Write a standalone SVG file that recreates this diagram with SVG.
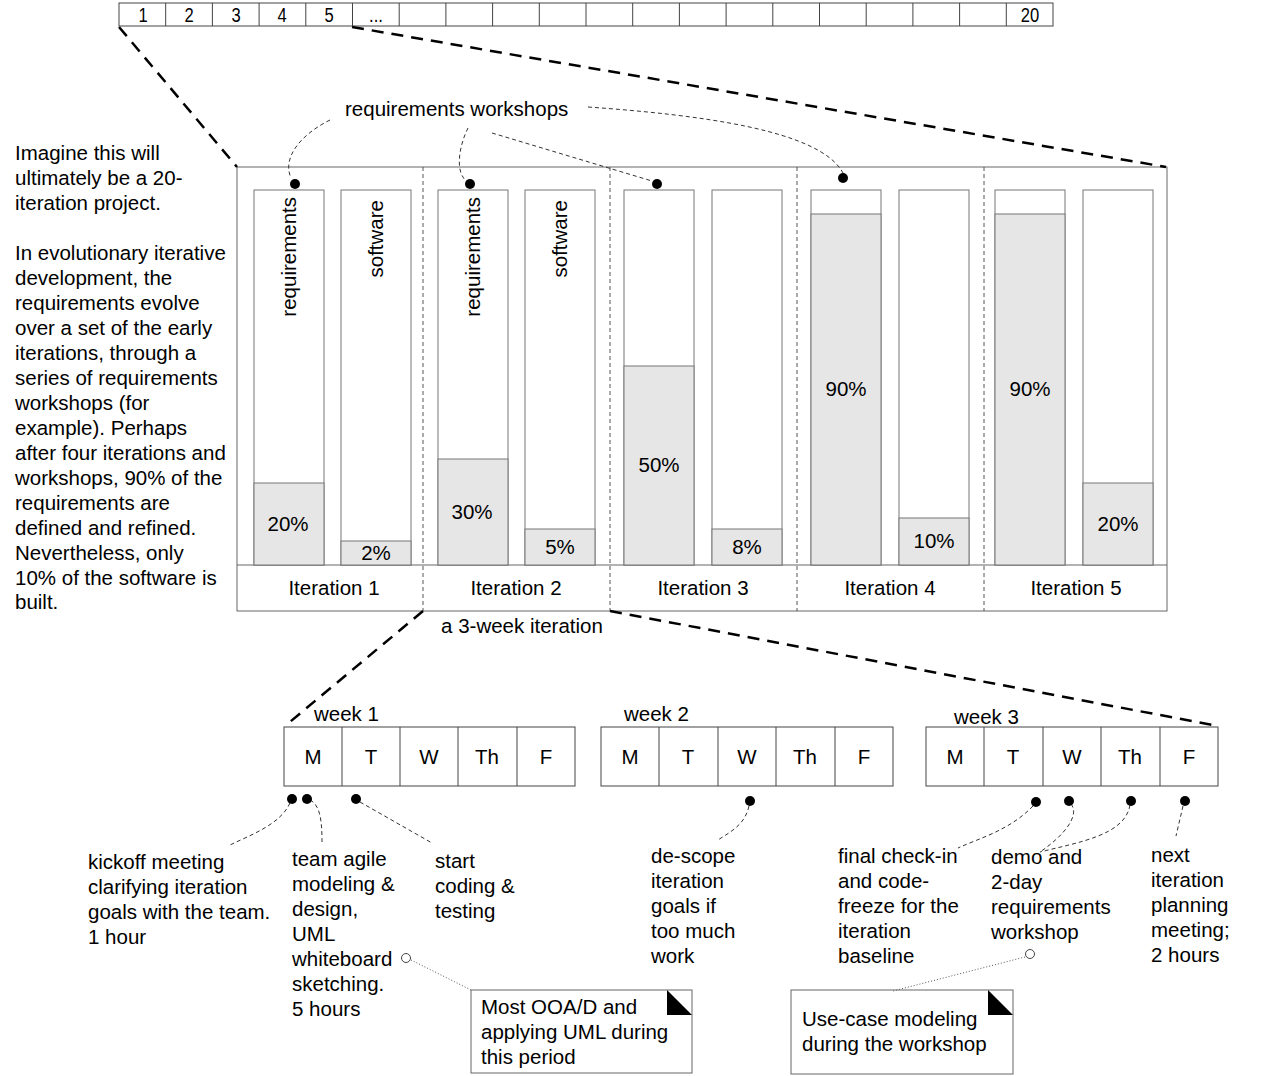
<svg xmlns="http://www.w3.org/2000/svg" width="1263" height="1076" viewBox="0 0 1263 1076">
<style>
text{font-family:"Liberation Sans",Arial,Helvetica,sans-serif;font-size:20.5px;fill:#000}
.c{text-anchor:middle}
.num{font-size:19.5px}
.cell{fill:#fff;stroke:#444;stroke-width:1}
.bar{fill:#fff;stroke:#777;stroke-width:1}
.fill{fill:#e6e6e6;stroke:#777;stroke-width:1}
.frame{fill:#fff;stroke:#666;stroke-width:1}
.sep{stroke:#555;stroke-width:1;stroke-dasharray:4,3;fill:none}
.zoom{stroke:#000;stroke-width:2.5;stroke-dasharray:12,8;fill:none}
.lead{stroke:#333;stroke-width:1;stroke-dasharray:4,3;fill:none}
.dot{stroke:#555;stroke-width:1;stroke-dasharray:1,2;fill:none}
.note{fill:#fff;stroke:#666;stroke-width:1}
.day{fill:#fff;stroke:#444;stroke-width:1}
</style>
<rect width="1263" height="1076" fill="#fff"/>

<g id="iteration-bar">
<rect class="cell" x="119" y="3" width="934" height="23"/>
<g stroke="#444" stroke-width="1">
<line x1="165.7" y1="3" x2="165.7" y2="26"/><line x1="212.4" y1="3" x2="212.4" y2="26"/><line x1="259.1" y1="3" x2="259.1" y2="26"/><line x1="305.8" y1="3" x2="305.8" y2="26"/><line x1="352.5" y1="3" x2="352.5" y2="26"/><line x1="399.2" y1="3" x2="399.2" y2="26"/><line x1="445.9" y1="3" x2="445.9" y2="26"/><line x1="492.6" y1="3" x2="492.6" y2="26"/><line x1="539.3" y1="3" x2="539.3" y2="26"/><line x1="586" y1="3" x2="586" y2="26"/><line x1="632.7" y1="3" x2="632.7" y2="26"/><line x1="679.4" y1="3" x2="679.4" y2="26"/><line x1="726.1" y1="3" x2="726.1" y2="26"/><line x1="772.8" y1="3" x2="772.8" y2="26"/><line x1="819.5" y1="3" x2="819.5" y2="26"/><line x1="866.2" y1="3" x2="866.2" y2="26"/><line x1="912.9" y1="3" x2="912.9" y2="26"/><line x1="959.6" y1="3" x2="959.6" y2="26"/><line x1="1006.3" y1="3" x2="1006.3" y2="26"/>
</g>
<text class="c num" transform="translate(143,21.5) scale(0.85,1)">1</text>
<text class="c num" transform="translate(189,21.5) scale(0.85,1)">2</text>
<text class="c num" transform="translate(236,21.5) scale(0.85,1)">3</text>
<text class="c num" transform="translate(282,21.5) scale(0.85,1)">4</text>
<text class="c num" transform="translate(329,21.5) scale(0.85,1)">5</text>
<text class="c num" transform="translate(376,21.5) scale(0.85,1)">...</text>
<text class="c num" transform="translate(1030,21.5) scale(0.85,1)">20</text>
</g>

<g id="description">
<text x="15" y="160">Imagine this will</text>
<text x="15" y="185">ultimately be a 20-</text>
<text x="15" y="210">iteration project.</text>
<text x="15" y="260">In evolutionary iterative</text>
<text x="15" y="285">development, the</text>
<text x="15" y="310">requirements evolve</text>
<text x="15" y="335">over a set of the early</text>
<text x="15" y="360">iterations, through a</text>
<text x="15" y="385">series of requirements</text>
<text x="15" y="410">workshops (for</text>
<text x="15" y="435">example). Perhaps</text>
<text x="15" y="460">after four iterations and</text>
<text x="15" y="485">workshops, 90% of the</text>
<text x="15" y="510">requirements are</text>
<text x="15" y="535">defined and refined.</text>
<text x="15" y="560">Nevertheless, only</text>
<text x="15" y="585">10% of the software is</text>
<text x="15" y="609">built.</text>
</g>

<g id="iterations">
<rect class="frame" x="237" y="167" width="930" height="444"/>
<line x1="237" y1="565" x2="1167" y2="565" stroke="#666" stroke-width="1"/>
<line class="sep" x1="423" y1="167" x2="423" y2="611"/>
<line class="sep" x1="610" y1="167" x2="610" y2="611"/>
<line class="sep" x1="797" y1="167" x2="797" y2="611"/>
<line class="sep" x1="984" y1="167" x2="984" y2="611"/>
</g>

<g id="iteration-1">
<rect class="bar" x="254" y="190" width="70" height="375"/>
<rect class="fill" x="254" y="483" width="70" height="82"/>
<rect class="bar" x="341" y="190" width="70" height="375"/>
<rect class="fill" x="341" y="541" width="70" height="24"/>
<text transform="translate(296,197) rotate(-90)" text-anchor="end">requirements</text>
<text transform="translate(383,200) rotate(-90)" text-anchor="end">software</text>
<text class="c" x="288" y="531">20%</text>
<text class="c" x="376" y="560">2%</text>
<text class="c" x="334" y="595">Iteration 1</text>
</g>
<g id="iteration-2">
<rect class="bar" x="438" y="190" width="70" height="375"/>
<rect class="fill" x="438" y="459" width="70" height="106"/>
<rect class="bar" x="525" y="190" width="70" height="375"/>
<rect class="fill" x="525" y="529" width="70" height="36"/>
<text transform="translate(480,197) rotate(-90)" text-anchor="end">requirements</text>
<text transform="translate(567,200) rotate(-90)" text-anchor="end">software</text>
<text class="c" x="472" y="519">30%</text>
<text class="c" x="560" y="554">5%</text>
<text class="c" x="516" y="595">Iteration 2</text>
</g>
<g id="iteration-3">
<rect class="bar" x="624" y="190" width="70" height="375"/>
<rect class="fill" x="624" y="366" width="70" height="199"/>
<rect class="bar" x="712" y="190" width="70" height="375"/>
<rect class="fill" x="712" y="529" width="70" height="36"/>
<text class="c" x="659" y="472">50%</text>
<text class="c" x="747" y="554">8%</text>
<text class="c" x="703" y="595">Iteration 3</text>
</g>
<g id="iteration-4">
<rect class="bar" x="811" y="190" width="70" height="375"/>
<rect class="fill" x="811" y="214" width="70" height="351"/>
<rect class="bar" x="899" y="190" width="70" height="375"/>
<rect class="fill" x="899" y="518" width="70" height="47"/>
<text class="c" x="846" y="396">90%</text>
<text class="c" x="934" y="548">10%</text>
<text class="c" x="890" y="595">Iteration 4</text>
</g>
<g id="iteration-5">
<rect class="bar" x="995" y="190" width="70" height="375"/>
<rect class="fill" x="995" y="214" width="70" height="351"/>
<rect class="bar" x="1083" y="190" width="70" height="375"/>
<rect class="fill" x="1083" y="483" width="70" height="82"/>
<text class="c" x="1030" y="396">90%</text>
<text class="c" x="1118" y="531">20%</text>
<text class="c" x="1076" y="595">Iteration 5</text>
</g>

<g id="workshops-label">
<text x="345" y="116">requirements workshops</text>
<text class="c" x="522" y="633">a 3-week iteration</text>
</g>

<g id="week-1">
<text x="314" y="721">week 1</text>
<rect class="day" x="284" y="727" width="291" height="59"/>
<g stroke="#444"><line x1="342" y1="727" x2="342" y2="786"/><line x1="400" y1="727" x2="400" y2="786"/><line x1="458" y1="727" x2="458" y2="786"/><line x1="517" y1="727" x2="517" y2="786"/></g>
<text class="c" x="313" y="764">M</text><text class="c" x="371" y="764">T</text><text class="c" x="429" y="764">W</text><text class="c" x="487" y="764">Th</text><text class="c" x="546" y="764">F</text>
</g>
<g id="week-2">
<text x="624" y="721">week 2</text>
<rect class="day" x="601" y="727" width="292" height="59"/>
<g stroke="#444"><line x1="659" y1="727" x2="659" y2="786"/><line x1="718" y1="727" x2="718" y2="786"/><line x1="776" y1="727" x2="776" y2="786"/><line x1="835" y1="727" x2="835" y2="786"/></g>
<text class="c" x="630" y="764">M</text><text class="c" x="688" y="764">T</text><text class="c" x="747" y="764">W</text><text class="c" x="805" y="764">Th</text><text class="c" x="864" y="764">F</text>
</g>
<g id="week-3">
<text x="954" y="724">week 3</text>
<rect class="day" x="926" y="727" width="292" height="59"/>
<g stroke="#444"><line x1="984" y1="727" x2="984" y2="786"/><line x1="1043" y1="727" x2="1043" y2="786"/><line x1="1101" y1="727" x2="1101" y2="786"/><line x1="1160" y1="727" x2="1160" y2="786"/></g>
<text class="c" x="955" y="764">M</text><text class="c" x="1013" y="764">T</text><text class="c" x="1072" y="764">W</text><text class="c" x="1130" y="764">Th</text><text class="c" x="1189" y="764">F</text>
</g>

<g id="annotations">
<text x="88" y="869">kickoff meeting</text>
<text x="88" y="894">clarifying iteration</text>
<text x="88" y="919">goals with the team.</text>
<text x="88" y="944">1 hour</text>
<text x="292" y="866">team agile</text>
<text x="292" y="891">modeling &amp;</text>
<text x="292" y="916">design,</text>
<text x="292" y="941">UML</text>
<text x="292" y="966">whiteboard</text>
<text x="292" y="991">sketching.</text>
<text x="292" y="1016">5 hours</text>
<text x="435" y="868">start</text>
<text x="435" y="893">coding &amp;</text>
<text x="435" y="918">testing</text>
<text x="651" y="863">de-scope</text>
<text x="651" y="888">iteration</text>
<text x="651" y="913">goals if</text>
<text x="651" y="938">too much</text>
<text x="651" y="963">work</text>
<text x="838" y="863">final check-in</text>
<text x="838" y="888">and code-</text>
<text x="838" y="913">freeze for the</text>
<text x="838" y="938">iteration</text>
<text x="838" y="963">baseline</text>
<text x="991" y="864">demo and</text>
<text x="991" y="889">2-day</text>
<text x="991" y="914">requirements</text>
<text x="991" y="939">workshop</text>
<text x="1151" y="862">next</text>
<text x="1151" y="887">iteration</text>
<text x="1151" y="912">planning</text>
<text x="1151" y="937">meeting;</text>
<text x="1151" y="962">2 hours</text>
</g>

<g id="note-1">
<rect class="note" x="471" y="990" width="221" height="83"/>
<polygon points="667,990 692,1015 667,1015" fill="#000"/>
<text x="481" y="1014">Most OOA/D and</text>
<text x="481" y="1039">applying UML during</text>
<text x="481" y="1064">this period</text>
</g>
<g id="note-2">
<rect class="note" x="791" y="990" width="222" height="84"/>
<polygon points="988,990 1013,1015 988,1015" fill="#000"/>
<text x="802" y="1026">Use-case modeling</text>
<text x="802" y="1051">during the workshop</text>
</g>

<g id="connectors">
<path class="zoom" d="M119 27 L237 167"/>
<path class="zoom" d="M352 27 L1166 167"/>
<path class="zoom" d="M423 611 L285 726"/>
<path class="zoom" d="M610 611 L1218 726"/>
<path class="lead" d="M330 120 C300 135 282 158 291 178"/>
<path class="lead" d="M468 128 C458 148 455 175 468 182"/>
<path class="lead" d="M492 133 L652 181"/>
<path class="lead" d="M588 107 C700 115 820 130 843 173"/>
<path class="lead" d="M290 803 C280 825 250 835 228 846"/>
<path class="lead" d="M310 800 C320 805 322 820 322 842"/>
<path class="lead" d="M360 802 L432 843"/>
<path class="lead" d="M749 806 C745 825 730 832 718 840"/>
<path class="lead" d="M1033 806 C1010 830 980 838 958 848"/>
<path class="lead" d="M1071 804 C1080 815 1065 835 1040 852"/>
<path class="lead" d="M1130 805 C1125 835 1080 842 1040 852"/>
<path class="lead" d="M1183 806 L1176 836"/>
<path class="dot" d="M411 960 L471 990"/>
<path class="dot" d="M1025 957 L893 991"/>
<g fill="#000">
<circle cx="295" cy="184" r="5"/><circle cx="470" cy="184" r="5"/><circle cx="657" cy="184" r="5"/><circle cx="843" cy="178" r="5"/>
<circle cx="292" cy="799" r="5"/><circle cx="307" cy="799" r="5"/><circle cx="356" cy="799" r="5"/><circle cx="750" cy="801" r="5"/>
<circle cx="1036" cy="802" r="5"/><circle cx="1069" cy="801" r="5"/><circle cx="1131" cy="801" r="5"/><circle cx="1185" cy="801" r="5"/>
</g>
<circle cx="406" cy="958" r="4.5" fill="#fff" stroke="#444"/>
<circle cx="1030" cy="954" r="4.5" fill="#fff" stroke="#444"/>
</g>
</svg>
